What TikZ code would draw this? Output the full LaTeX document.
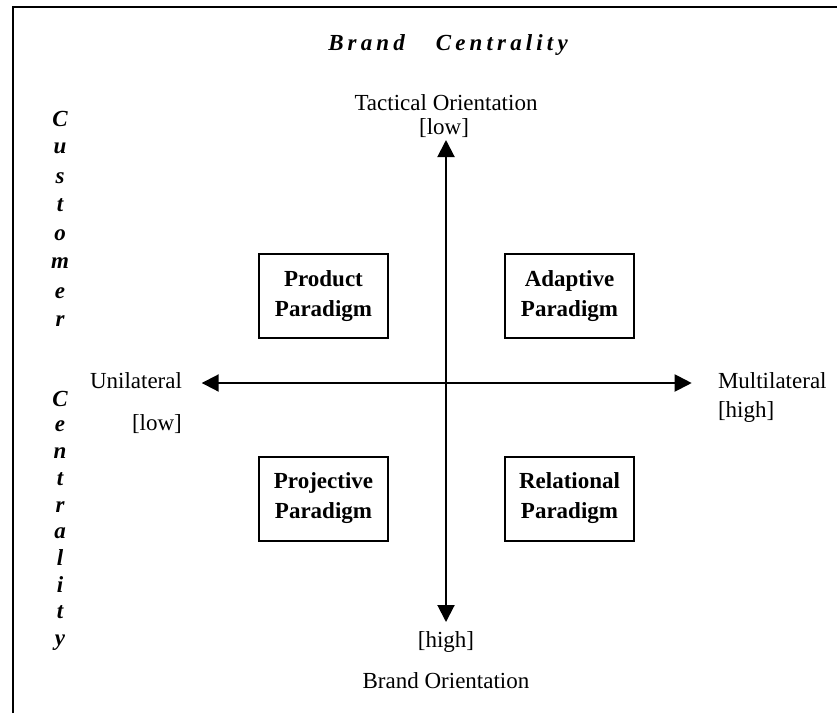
\documentclass[tikz,border=0pt]{standalone}
\usepackage{fontspec}
\setmainfont{Liberation Serif}
\usetikzlibrary{arrows.meta}
\begin{document}
\begin{tikzpicture}[x=1pt,y=-1pt,
  every node/.style={inner sep=0pt,outer sep=0pt,font=\fontsize{23}{28}\selectfont},
  lbl/.style={anchor=base},
  vlet/.style={anchor=base,font=\fontsize{23}{28}\selectfont\bfseries\itshape},
  para/.style={draw,line width=2pt,minimum width=129pt,minimum height=84pt,align=center,
    font=\fontsize{23}{30}\selectfont\bfseries},
  axis/.style={line width=2pt,{Triangle[length=17pt,width=17pt]}-{Triangle[length=17pt,width=17pt]}}]
\useasboundingbox (0,0) rectangle (837,713);
% frame
\draw[line width=2.5pt] (13,713) -- (13,7) -- (837,7);
% title
\node[vlet] (title) at (448,50) {\addfontfeature{LetterSpace=18}Brand\hspace{31pt}Centrality};
% vertical side letters
\foreach \l/\y [count=\i] in {C/126.5,u/153.3,s/183.3,t/211.7,o/240,m/268.3,e/298.3,r/326.7}
  \node[vlet] (cu\i) at (60,\y) {\l};
\foreach \l/\y [count=\i] in {C/406.7,e/431.7,n/458,t/485,r/512,a/538,l/565,i/592,t/618,y/645}
  \node[vlet] (ce\i) at (60,\y) {\l};
% axes
\coordinate (top) at (446,140);
\coordinate (bot) at (446,622);
\coordinate (lft) at (201.7,383);
\coordinate (rgt) at (691.7,383);
\draw[axis] (top) -- (bot);
\draw[axis] (lft) -- (rgt);
% axis labels
\node[lbl] (tac) at (446,110) {Tactical Orientation};
\node[lbl] (tlow) at (444,134) {[low]};
\node[lbl] (bhigh) at (446,647) {[high]};
\node[lbl] (bor) at (446,688) {Brand Orientation};
\node[anchor=base west] (uni) at (90,388) {Unilateral};
\node[anchor=base west] (llow) at (132,430) {[low]};
\node[anchor=base west] (mul) at (718,388) {Multilateral};
\node[anchor=base west] (rhigh) at (718,417) {[high]};
% paradigm boxes
\node[para] (prod) at (323.5,296) {Product\\Paradigm};
\node[para] (adap) at (569.5,296) {Adaptive\\Paradigm};
\node[para] (proj) at (323.5,498.5) {Projective\\Paradigm};
\node[para] (rel) at (569.5,498.5) {Relational\\Paradigm};
\end{tikzpicture}
\end{document}
